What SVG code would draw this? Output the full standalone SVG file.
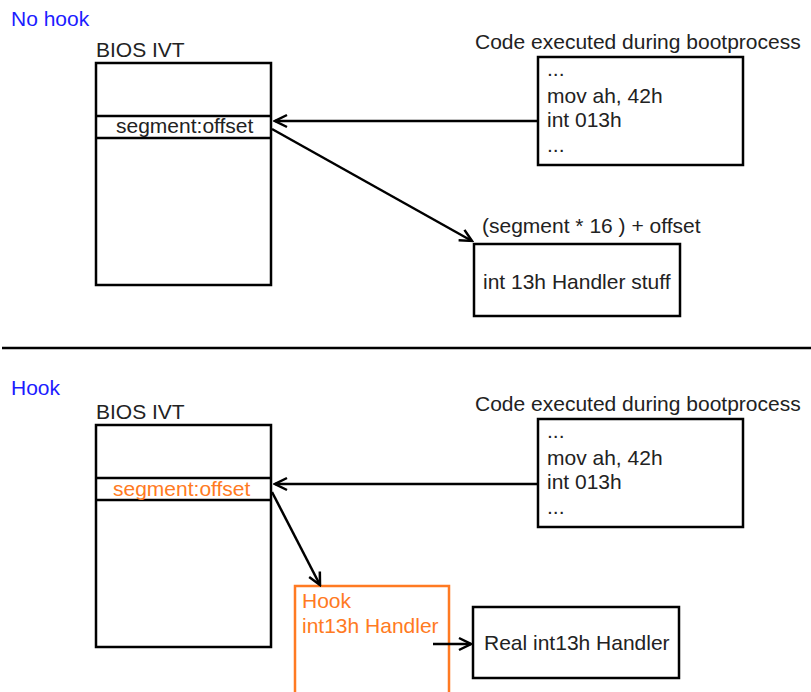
<svg xmlns="http://www.w3.org/2000/svg" width="811" height="692" viewBox="0 0 811 692">
<defs>
<style>
text{font-family:"Liberation Sans",Arial,sans-serif;font-size:21px;fill:#222}
.blue{fill:#1c1cff}
.or{fill:#ff7a22}
.box{fill:#fff;stroke:#000;stroke-width:2.5}
.obox{fill:none;stroke:#ff7a22;stroke-width:2.5}
.ln{fill:none;stroke:#000;stroke-width:2.5}
.con{fill:none;stroke:#000;stroke-width:2.5;marker-end:url(#arr)}
</style>
<marker id="arr" markerUnits="userSpaceOnUse" viewBox="-14 -8 16 16" markerWidth="16" markerHeight="16" refX="0" refY="0" orient="auto">
<path d="M-12,-6 L0,0 L-12,6" fill="none" stroke="#000" stroke-width="2.5"/>
</marker>
</defs>
<rect width="811" height="692" fill="#fff"/>

<text class="blue" x="11" y="26">No hook</text>
<text class="blue" x="11" y="395">Hook</text>
<line class="ln" x1="2" y1="348" x2="811" y2="348"/>

<g id="ivt1">
<text x="96" y="57">BIOS IVT</text>
<rect class="box" x="96" y="63" width="175" height="222"/>
<line class="ln" x1="96" y1="116" x2="271" y2="116"/>
<line class="ln" x1="96" y1="138" x2="271" y2="138"/>
<text x="116" y="133">segment:offset</text>
</g>

<g id="code1">
<text x="475" y="49">Code executed during bootprocess</text>
<rect class="box" x="538" y="57" width="205" height="108"/>
<text x="547" y="76">...</text>
<text x="547" y="103">mov ah, 42h</text>
<text x="547" y="127">int 013h</text>
<text x="547" y="152">...</text>
</g>

<g id="handler1">
<text x="482" y="233">(segment * 16 ) + offset</text>
<rect class="box" x="474" y="244" width="206" height="72"/>
<text x="483" y="289">int 13h Handler stuff</text>
</g>

<g id="ivt2">
<text x="96" y="419">BIOS IVT</text>
<rect class="box" x="96" y="425" width="175" height="222"/>
<line class="ln" x1="96" y1="478" x2="271" y2="478"/>
<line class="ln" x1="96" y1="500" x2="271" y2="500"/>
<text class="or" x="113" y="496">segment:offset</text>
</g>

<g id="code2">
<text x="475" y="411">Code executed during bootprocess</text>
<rect class="box" x="538" y="419" width="205" height="108"/>
<text x="547" y="438">...</text>
<text x="547" y="465">mov ah, 42h</text>
<text x="547" y="489">int 013h</text>
<text x="547" y="514">...</text>
</g>

<g id="hook">
<path class="obox" d="M295,700 L295,586 L449,586 L449,700"/>
<text class="or" x="302" y="608">Hook</text>
<text class="or" x="302" y="633">int13h Handler</text>
</g>

<g id="real">
<rect class="box" x="473" y="607" width="206" height="71"/>
<text x="484" y="650">Real int13h Handler</text>
</g>

<g id="connectors">
<line class="con" x1="538" y1="121" x2="275" y2="121"/>
<line class="con" x1="272" y1="129" x2="472" y2="241"/>
<line class="con" x1="538" y1="484" x2="275" y2="484"/>
<line class="con" x1="272" y1="492" x2="320" y2="585"/>
<line class="con" x1="433" y1="644" x2="471" y2="644"/>
</g>
</svg>
